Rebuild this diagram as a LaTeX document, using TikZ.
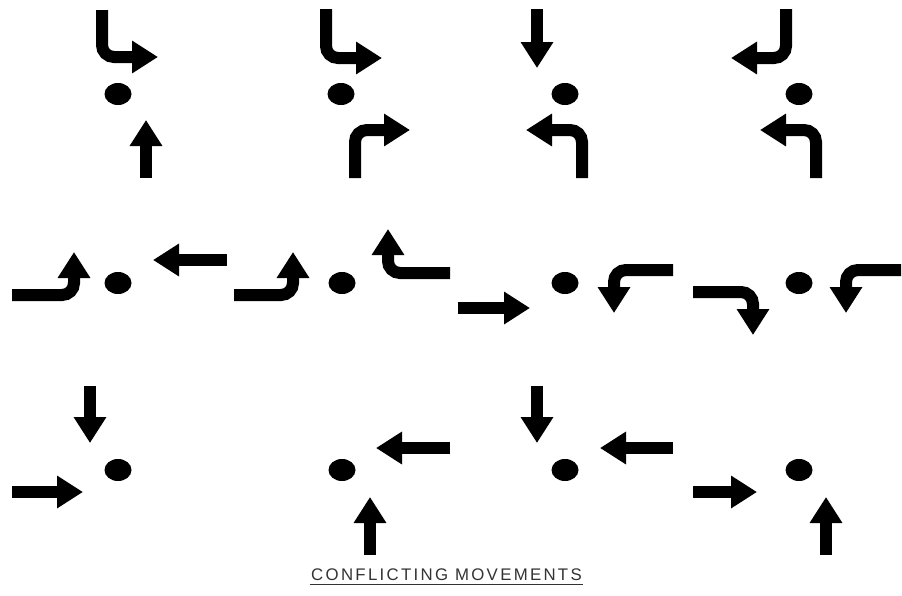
\documentclass[tikz,border=0pt]{standalone}
\usepackage{fontspec}
\setmainfont{Liberation Sans}
\newfontfamily\capfont[LetterSpace=13.7]{Liberation Sans}
\usetikzlibrary{arrows.meta}
\tikzset{
  mv/.style={line width=12pt, rounded corners=12pt, line cap=butt,
    -{Triangle[width=31pt,length=26pt]}},
  pt/.style={ellipse, fill=black, minimum width=27pt, minimum height=22pt, inner sep=0pt},
}
\usetikzlibrary{shapes.geometric}
\begin{document}
\begin{tikzpicture}[x=1pt,y=-1pt]
\useasboundingbox[fill=white] (0,0) rectangle (902,595);
% Row 1
\node[pt] (dA) at (118,94) {};
\draw[mv] (102,10) -- (102,57) -- (158,57);
\draw[mv] (146,178) -- (146,120);
\node[pt] (dB) at (341,94) {};
\draw[mv] (326,9) -- (326,58) -- (382,58);
\draw[mv] (355,178) -- (355,130) -- (410,130);
\node[pt] (dC) at (565,94) {};
\draw[mv] (537,9) -- (537,68);
\draw[mv] (582,178) -- (582,130) -- (526,130);
\node[pt] (dD) at (799,94) {};
\draw[mv] (786,9) -- (786,58) -- (731,58);
\draw[mv] (816,178) -- (816,130) -- (760,130);
% Row 2
\node[pt] (dE) at (118,283) {};
\draw[mv] (12,295) -- (74,295) -- (74,252);
\draw[mv] (227,260) -- (153,260);
\node[pt] (dF) at (342,283) {};
\draw[mv] (234,295) -- (293,295) -- (293,252);
\draw[mv] (450,273) -- (388,273) -- (388,229);
\node[pt] (dG) at (565,283) {};
\draw[mv] (458,308) -- (530,308);
\draw[mv] (673,270) -- (614,270) -- (614,313);
\node[pt] (dH) at (799,283) {};
\draw[mv] (693,292) -- (753,292) -- (753,335);
\draw[mv] (901,270) -- (846,270) -- (846,313);
% Row 3
\node[pt] (dI) at (118,470) {};
\draw[mv] (90,386) -- (90,443);
\draw[mv] (12,492) -- (83,492);
\node[pt] (dJ) at (342,470) {};
\draw[mv] (450,448) -- (376,448);
\draw[mv] (370,555) -- (370,497);
\node[pt] (dK) at (565,470) {};
\draw[mv] (537,386) -- (537,443);
\draw[mv] (673,448) -- (600,448);
\node[pt] (dL) at (799,470) {};
\draw[mv] (693,492) -- (757,492);
\draw[mv] (826,555) -- (826,497);
% Caption
\node[inner sep=0pt, text=black!80, font=\capfont\fontsize{16.8}{18}\selectfont] (cap) at (446.5,575) {CONFLICTING MOVEMENTS};
\draw[black!80, line width=1.2pt] (310,584.5) -- (583,584.5);
\end{tikzpicture}
\end{document}
